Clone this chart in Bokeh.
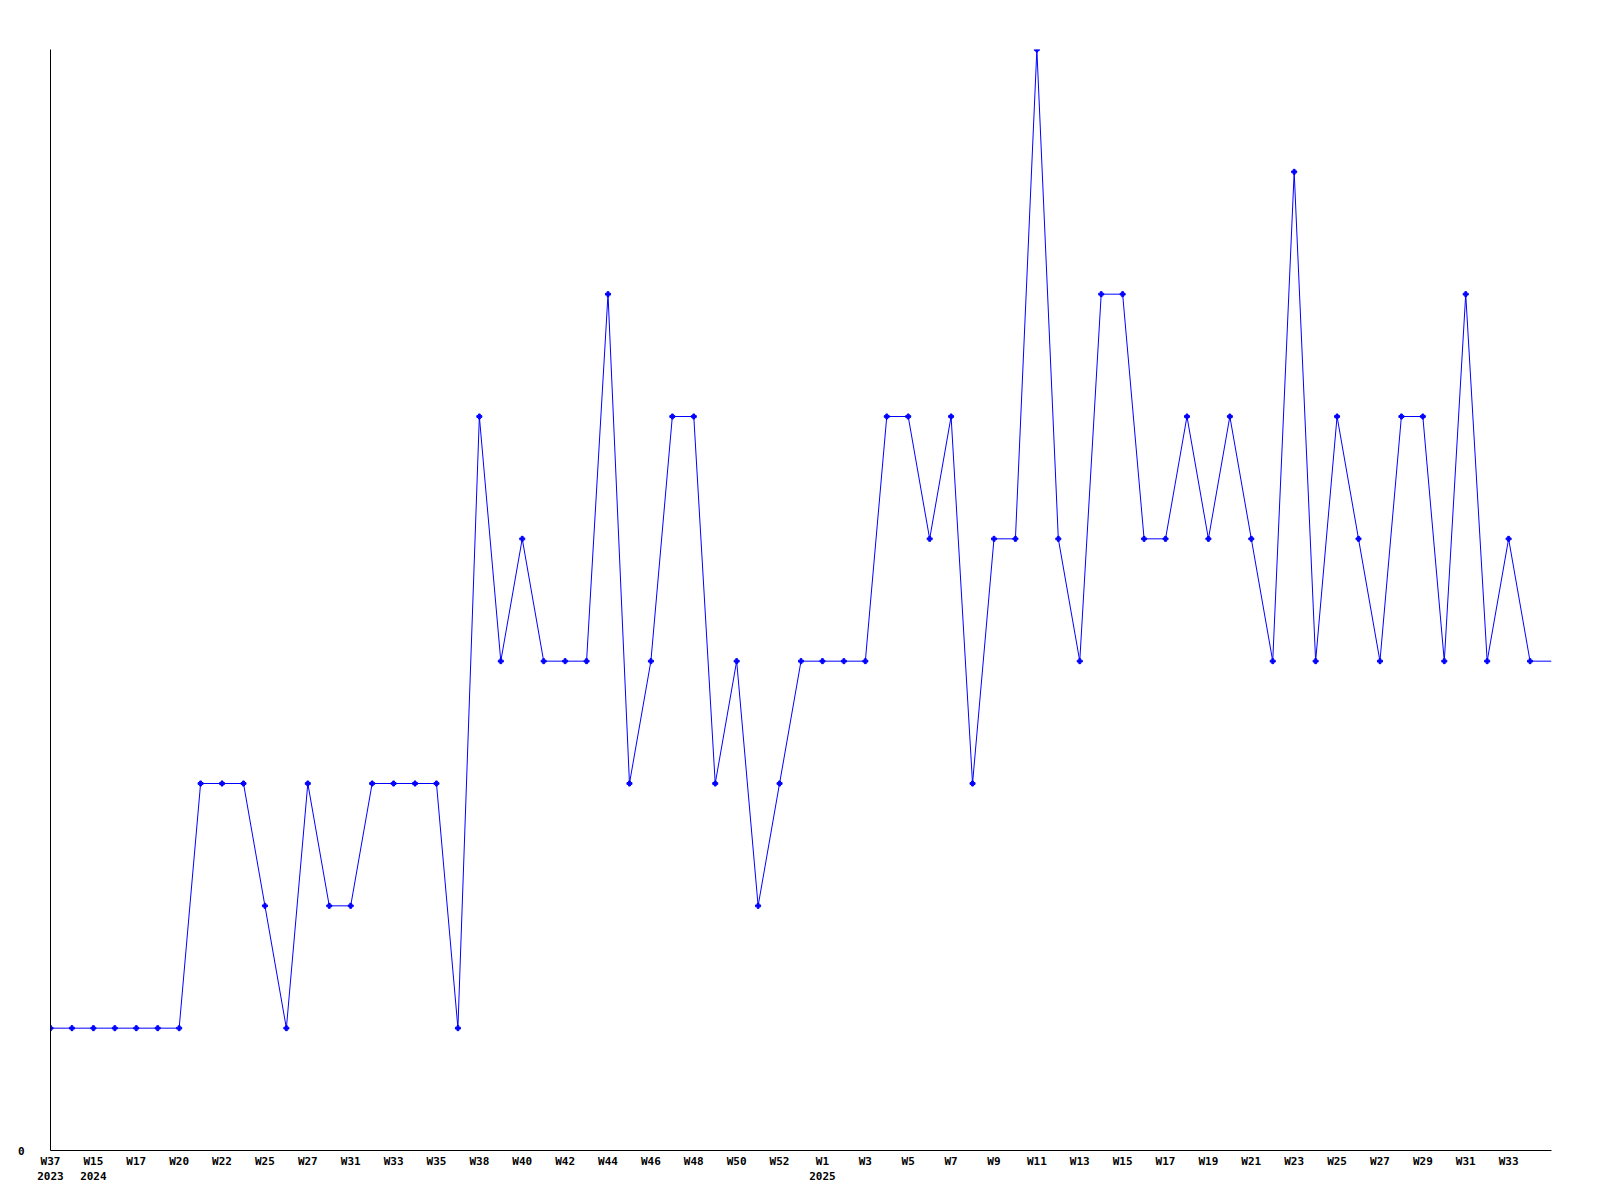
from bokeh.plotting import figure
from bokeh.models import FixedTicker, Range1d
from bokeh.embed import file_html
from bokeh.resources import INLINE

# weekly values (index = consecutive data weeks)
values = [1, 1, 1, 1, 1, 1, 1, 3, 3, 3,
          2, 1, 3, 2, 2, 3, 3, 3, 3, 1,
          6, 4, 5, 4, 4, 4, 7, 3, 4, 6,
          6, 3, 4, 2, 3, 4, 4, 4, 4, 6,
          6, 5, 6, 3, 5, 5, 9, 5, 4, 7,
          7, 5, 5, 6, 5, 6, 5, 4, 8, 4,
          6, 5, 4, 6, 6, 4, 7, 4, 5, 4,
          4]

tick_labels = ["W37\n2023", "W15\n2024", "W17", "W20", "W22", "W25", "W27", "W31",
               "W33", "W35", "W38", "W40", "W42", "W44", "W46", "W48", "W50",
               "W52", "W1\n2025", "W3", "W5", "W7", "W9", "W11", "W13", "W15",
               "W17", "W19", "W21", "W23", "W25", "W27", "W29", "W31", "W33"]

xs = list(range(len(values)))
tick_pos = [2 * i for i in range(len(tick_labels))]

p = figure(width=1584, height=1186, output_backend="svg", toolbar_location=None,
           x_range=Range1d(0, len(values) - 1), y_range=Range1d(0, 9),
           min_border_left=50, min_border_right=33, min_border_top=49, min_border_bottom=28)
p.outline_line_color = None
p.grid.visible = False
p.background_fill_color = "white"
p.border_fill_color = "white"

p.line(xs, values, line_color="#0000ff", line_width=1)
p.scatter(xs[:-1], values[:-1], marker="plus", size=5, color="#0000ff")

font = "DejaVu Sans Mono"
p.xaxis.ticker = FixedTicker(ticks=tick_pos)
p.xaxis.major_label_overrides = {t: l for t, l in zip(tick_pos, tick_labels)}
p.yaxis.ticker = FixedTicker(ticks=[0])
for ax in (p.xaxis, p.yaxis):
    ax.major_tick_line_color = None
    ax.minor_tick_line_color = None
    ax.major_tick_out = 0
    ax.major_tick_in = 0
    ax.axis_line_color = "black"
    ax.axis_line_width = 1
    ax.major_label_text_font = font
    ax.major_label_text_font_style = "bold"
    ax.major_label_text_font_size = "11px"
    ax.major_label_text_color = "black"
p.xaxis.major_label_standoff = 4
p.yaxis.major_label_standoff = 26

open("out.html", "w").write(file_html(p, INLINE))
